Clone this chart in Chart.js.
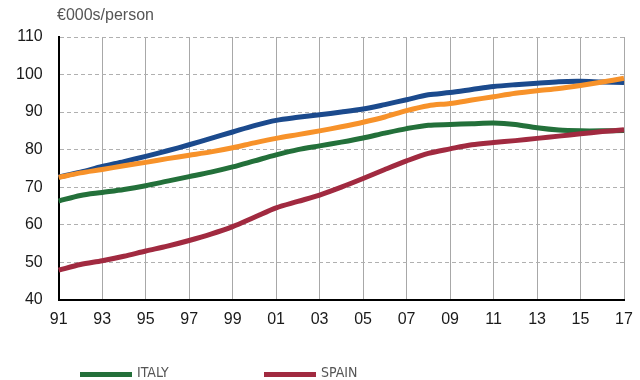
<!DOCTYPE html>
<html>
<head>
<meta charset="utf-8">
<script src="https://cdn.jsdelivr.net/npm/chart.js@4.4.1/dist/chart.umd.min.js"></script>
<style>
  html, body { margin: 0; padding: 0; background: #fff; }
  #wrap { position: relative; width: 640px; height: 380px; overflow: hidden; }
  #unit { position: absolute; left: 57px; top: 6px; font: 16px "Liberation Sans", Arial, sans-serif; color: #555; }
  #legend { position: absolute; left: 80px; top: 0; }
  .item { position: absolute; top: 0; }
  .swatch { position: absolute; top: 372px; width: 52px; height: 5px; }
  .lbl { position: absolute; top: 365px; left: 57px; font: 14px/14px "Liberation Sans Narrow", "DejaVu Sans Condensed", sans-serif; font-stretch: condensed; color: #555; white-space: nowrap; }
</style>
</head>
<body>
<div id="wrap">
  <canvas id="chart" width="640" height="380"></canvas>
  <div id="unit">€000s/person</div>
  <div id="legend"></div>
</div>
<script>
// Dados (anos 1991-2017)
const years = ['91','92','93','94','95','96','97','98','99','00','01','02','03','04',
               '05','06','07','08','09','10','11','12','13','14','15','16','17'];

const blueLine   = [72.7, 74.0, 75.5, 76.8, 78.2, 79.7, 81.3, 83.0, 84.7, 86.4, 87.8, 88.6, 89.3, 90.0,
                    90.8, 92.0, 93.3, 94.6, 95.2, 96.0, 96.8, 97.3, 97.7, 98.1, 98.2, 98.0, 97.9];
const orangeLine = [72.6, 73.8, 74.7, 75.7, 76.6, 77.6, 78.5, 79.4, 80.5, 81.8, 83.0, 84.0, 85.0, 86.1,
                    87.3, 88.7, 90.4, 91.7, 92.3, 93.2, 94.1, 95.0, 95.7, 96.3, 97.1, 98.0, 99.0];
const italy      = [66.3, 67.8, 68.6, 69.4, 70.4, 71.6, 72.8, 74.0, 75.4, 77.0, 78.6, 80.0, 81.0, 82.0,
                    83.1, 84.4, 85.6, 86.5, 86.7, 86.9, 87.1, 86.7, 85.8, 85.2, 85.0, 85.0, 85.1];
const spain      = [47.9, 49.4, 50.4, 51.6, 53.0, 54.3, 55.8, 57.5, 59.5, 62.0, 64.5, 66.2, 67.9, 70.0,
                    72.3, 74.7, 77.0, 79.0, 80.2, 81.3, 81.9, 82.4, 83.0, 83.6, 84.2, 84.8, 85.3];

const yMin = 40, yMax = 110, yStep = 10;
const legendLabels = ['ITALY', 'SPAIN'];

const line = (label, data, color, order) => ({
  label, data, order,
  borderColor: color,
  backgroundColor: color,
  borderWidth: 5,
  pointRadius: 0,
  tension: 0.3,
  fill: false
});

const chart = new Chart(document.getElementById('chart').getContext('2d'), {
  type: 'line',
  data: {
    labels: years,
    datasets: [
      line('Blue', blueLine, '#1b4a8d', 3),
      line('ITALY', italy, '#23703a', 2),
      line('Orange', orangeLine, '#f7922a', 1),
      line('SPAIN', spain, '#a12a40', 0)
    ]
  },
  options: {
    responsive: false,
    animation: false,
    layout: { padding: { top: 37, left: 0, right: 16, bottom: 46 } },
    plugins: { legend: { display: false }, tooltip: { enabled: false } },
    scales: {
      x: {
        // tickLength transparente só para afastar os rótulos do eixo
        grid: { color: '#a8a8a8', lineWidth: 1, drawTicks: true, tickLength: 5, tickColor: 'rgba(0,0,0,0)' },
        border: { color: '#000', width: 2 },
        ticks: {
          autoSkip: false, maxRotation: 0, padding: 5,
          color: '#1a1a1a', font: { family: 'Liberation Sans', size: 16 },
          callback: (v, i) => (i % 2 === 0 ? years[i] : null)
        }
      },
      y: {
        min: yMin, max: yMax,
        grid: { color: '#b0b0b0', lineWidth: 1, drawTicks: false },
        // em v4 o "dash" da borda tracejada as linhas de grade
        border: { color: '#000', width: 2, dash: [4, 3] },
        ticks: {
          stepSize: yStep, padding: 16,
          color: '#1a1a1a', font: { family: 'Liberation Sans', size: 16 }
        }
      }
    }
  }
});

// Legenda em HTML (só ITALY e SPAIN aparecem)
const legend = document.getElementById('legend');
chart.data.datasets
  .filter(ds => legendLabels.includes(ds.label))
  .forEach((ds, i) => {
    const item = document.createElement('div');
    item.className = 'item';
    item.style.left = (i * 184) + 'px';
    item.innerHTML = '<div class="swatch" style="background:' + ds.borderColor + '"></div>' +
                     '<div class="lbl">' + ds.label + '</div>';
    legend.appendChild(item);
  });
</script>
</body>
</html>
